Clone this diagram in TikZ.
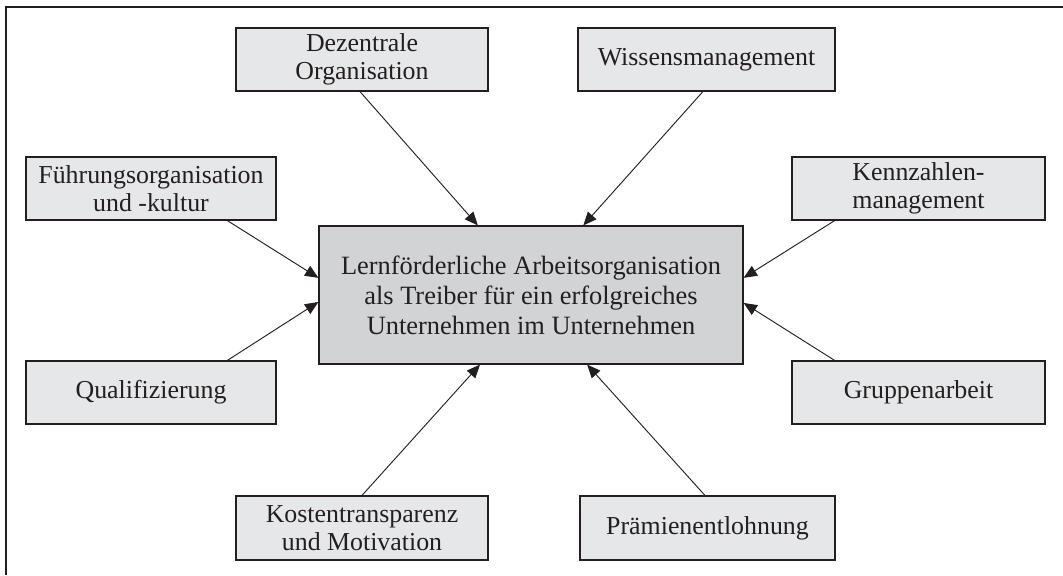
\documentclass[tikz,border=0pt]{standalone}
\usepackage{fontspec}
\setmainfont{Liberation Serif}
\usetikzlibrary{arrows.meta,calc}
\definecolor{boxfill}{HTML}{E6E7E8}
\definecolor{ctrfill}{HTML}{D1D3D4}
\definecolor{ink}{HTML}{231F20}
\tikzset{
  px/.style={x=0.75pt,y=-0.75pt},
  smallbox/.style={draw=ink,line width=0.9pt,fill=boxfill,inner sep=0pt,
    align=center,minimum height=47.25pt,text=ink,
    font=\fontsize{19.4}{21}\selectfont},
  ctrbox/.style={draw=ink,line width=0.9pt,fill=ctrfill,inner sep=0pt,
    align=center,minimum width=318pt,minimum height=103.5pt,text=ink,
    font=\fontsize{19.8}{22.5}\selectfont},
  conn/.style={draw=ink,line width=0.7pt,-{Triangle[length=10pt,width=8.5pt]}},
  frameline/.style={draw=ink,line width=1pt}
}
\begin{document}
\begin{tikzpicture}[px]
\useasboundingbox (0,0) rectangle (1063,575);
\coordinate (f0) at (6,575);
\coordinate (f1) at (6,7);
\coordinate (f2) at (1063,7);
\draw[frameline] (f0) -- (f1) -- (f2);

\node[ctrbox] (ctr) at (531,295) {Lernförderliche Arbeitsorganisation\\als Treiber für ein erfolgreiches\\Unternehmen im Unternehmen};

\node[smallbox,minimum width=189pt] (dez) at (362,59.5) {Dezentrale\\Organisation};
\node[smallbox,minimum width=192.75pt] (wis) at (706.5,59.5) {Wissensmanagement};
\node[smallbox,minimum width=187.5pt] (fue) at (151,188.5) {Führungsorganisation\\und -kultur};
\node[smallbox,minimum width=189.75pt] (ken) at (918.5,188.5) {Kennzahlen-\\management};
\node[smallbox,minimum width=187.5pt] (qua) at (151,392.5) {Qualifizierung};
\node[smallbox,minimum width=189.75pt] (gru) at (918.5,392.5) {Gruppenarbeit};
\node[smallbox,minimum width=189pt,minimum height=48pt] (kos) at (362,528) {Kostentransparenz\\und Motivation};
\node[smallbox,minimum width=191.25pt,minimum height=48pt] (pra) at (707.5,528) {Prämienentlohnung};

\draw[conn] ($(dez.south west)!0.492!(dez.south east)$) -- ($(ctr.north west)!0.375!(ctr.north east)$);
\draw[conn] ($(wis.south west)!0.486!(wis.south east)$) -- ($(ctr.north west)!0.623!(ctr.north east)$);
\draw[conn] ($(fue.south west)!0.804!(fue.south east)$) -- ($(ctr.north west)!0.377!(ctr.south west)$);
\draw[conn] ($(ken.south west)!0.17!(ken.south east)$) -- ($(ctr.north east)!0.377!(ctr.south east)$);
\draw[conn] ($(qua.north west)!0.804!(qua.north east)$) -- ($(ctr.north west)!0.55!(ctr.south west)$);
\draw[conn] ($(gru.north west)!0.17!(gru.north east)$) -- ($(ctr.north east)!0.557!(ctr.south east)$);
\draw[conn] ($(kos.north west)!0.50!(kos.north east)$) -- ($(ctr.south west)!0.38!(ctr.south east)$);
\draw[conn] ($(pra.north west)!0.49!(pra.north east)$) -- ($(ctr.south west)!0.632!(ctr.south east)$);
\end{tikzpicture}
\end{document}
